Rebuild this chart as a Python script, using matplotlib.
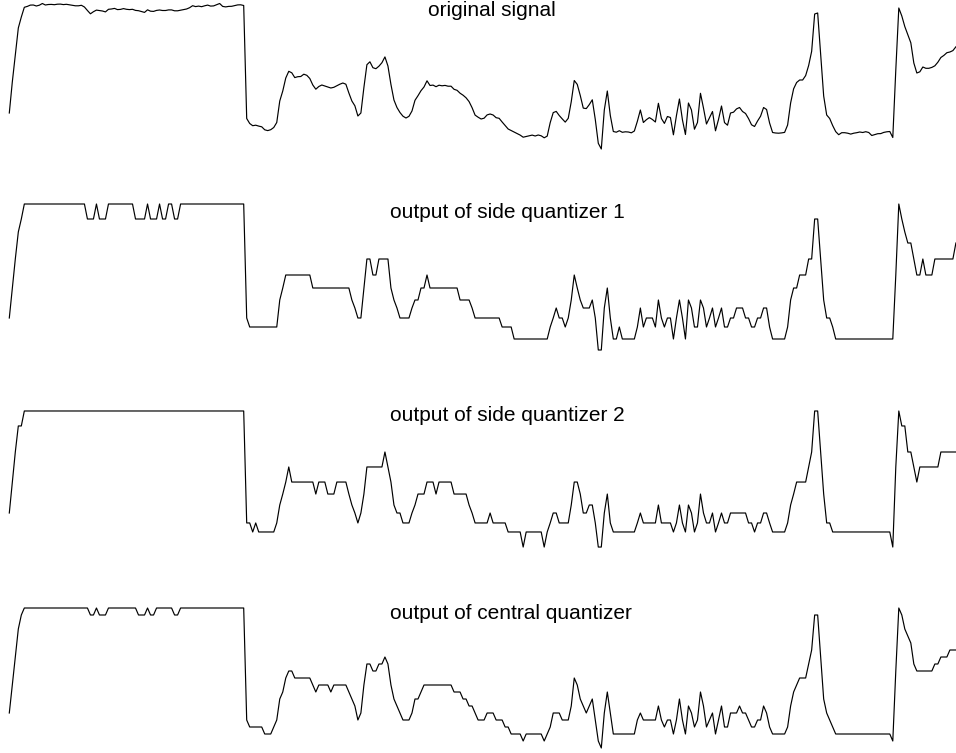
import numpy as np
import matplotlib
matplotlib.use("Agg")
import matplotlib.pyplot as plt

# original signal, one value per sample (depth: bigger value = lower on the page)
original = [
    113, 82, 55, 28, 17, 7.3, 6.4, 5.1, 5, 6,
    5.2, 3.5, 5, 4.5, 4.4, 4.7, 4.2, 4.1, 4.6, 4.3,
    4.8, 5.4, 5.8, 5.8, 5.3, 7, 10.5, 13.8, 11.7, 10.1,
    10.6, 11, 11.9, 9.3, 9, 8.4, 9.6, 9.4, 8.6, 9.3,
    9.6, 9.3, 10.4, 10.7, 11.6, 12.4, 9.8, 11.2, 11.4, 10.4,
    10, 10.5, 10.5, 9.9, 9.9, 10.8, 10.8, 10.2, 9.6, 9,
    7.7, 5.7, 6.6, 6.1, 6.7, 5.8, 5.1, 6.1, 5.9, 4.7,
    3.5, 6.4, 6.9, 6.4, 6.3, 5.6, 4.9, 4.8, 5.5, 118.5,
    123.5, 125.7, 125.2, 126.1, 126.8, 129.8, 130.6, 129.7, 127.5, 122.5,
    101, 91, 78, 71.3, 72.8, 77.6, 76.7, 76.5, 74.2, 75.3,
    78.5, 85, 89.2, 86.5, 85, 86, 87.1, 88, 87.3, 85.8,
    84.2, 83, 84.2, 93, 101, 105.8, 116, 113, 87.5, 64.7,
    61.8, 67.7, 68.7, 66.2, 62.7, 56.9, 66, 84.5, 100, 107.5,
    112.5, 116.2, 118, 116.3, 111, 100.3, 95.7, 90.7, 87, 80.8,
    85.5, 85.1, 86.7, 85.2, 85.8, 85.4, 86.2, 86.2, 89.3, 90.3,
    93.2, 95.2, 97.8, 101.6, 107.7, 115.1, 117.2, 119, 118.2, 114.9,
    114, 115, 117.7, 118.3, 122, 125.5, 129, 130.5, 132, 133.5,
    135.1, 137.2, 136.5, 135.7, 135.1, 136, 135, 135.8, 137.8, 136.1,
    122.6, 112.6, 111.4, 115.5, 118.9, 122.1, 118.3, 101.7, 80.5, 84.4,
    95.5, 108.1, 108.6, 104.6, 99.8, 119.5, 143.3, 149, 110, 91,
    115.5, 131.5, 132.2, 130.7, 132.3, 131.8, 132, 132.8, 131, 121.3,
    110, 122.5, 119.7, 117.6, 119.5, 122, 103.3, 118.5, 123.4, 116.5,
    117.5, 134.8, 115.7, 99, 119.9, 134.5, 103, 110, 129.2, 122.5,
    93.3, 108, 124, 117.8, 111.5, 130.8, 119.5, 106, 122.6, 125.2,
    113, 112.2, 108.9, 107.5, 111.5, 113.5, 118.6, 124.8, 126.5, 121,
    116.2, 107.5, 109.5, 123, 132.5, 133, 133.2, 132.9, 132.4, 125,
    103, 88.8, 82.5, 80, 80, 75.6, 65.5, 51.3, 14, 13,
    54, 96, 115, 118.5, 125.6, 131.6, 134.7, 132.7, 132.7, 133.2,
    134.1, 133.2, 132.7, 132, 132.5, 131.7, 132.5, 135.5, 134.6, 133.7,
    133.6, 132.4, 131.8, 131.5, 137.5, 70, 8, 16, 26.6, 34.8,
    42.8, 63, 73, 71.8, 67, 68.3, 68.3, 67.4, 65.8, 62.2,
    57.5, 55.4, 52.7, 52, 50.6, 46.8,
]

# side quantizer 1: reconstruction levels and cell edges
side1_levels = [7, 22, 35, 46, 62, 78, 91, 103, 111, 121, 130, 142, 153]
side1_edges = [10.3, 22, 33, 48, 67.2, 81, 93, 104, 111.7, 121, 130.8, 140]

# side quantizer 2
side2_levels = [5.9, 22, 50, 66.1, 82.3, 95.2, 107, 115.6, 126.3, 136, 152.2]
side2_edges = [15, 34, 60, 72.5, 86.5, 98, 105, 114, 125.5, 137]

# central quantizer (uniform)
central_levels = [7, 14, 21, 28, 35, 42, 49, 56, 63, 70, 77, 84, 91, 98,
                  105, 112, 119, 126, 133, 140, 147, 154]

titles = ["original signal", "output of side quantizer 1",
          "output of side quantizer 2", "output of central quantizer"]


def quantize(x, levels, edges):
    return np.asarray(levels)[np.searchsorted(edges, x)]


sig = np.array(original, dtype=float)
central_edges = (np.array(central_levels[:-1]) + np.array(central_levels[1:])) / 2
series = [
    sig,
    quantize(sig, side1_levels, side1_edges),
    quantize(sig, side2_levels, side2_edges),
    quantize(sig, central_levels, central_edges),
]

W, H = 956, 753
fig = plt.figure(figsize=(W / 100, H / 100), dpi=100)

# per panel: band top/bottom in pixels, offset and scale of the signal in that band,
# title left edge and baseline in pixels
panels = [
    (0, 160, 0.0, 1.0, 428, 16),
    (190, 360, 197.0, 1.0, 390.5, 218),
    (395, 560, 405.5, 0.93, 390.5, 421),
    (595, 753, 601.0, 1.0, 390.5, 619),
]

x_left, x_right = 9.3, 955.9
n = np.arange(len(sig))

for (top, bot, off, scale, tx, ty), y, title in zip(panels, series, titles):
    ax = fig.add_axes([x_left / W, 1 - bot / H, (x_right - x_left) / W, (bot - top) / H])
    ax.plot(n, y, color="black", lw=0.85, clip_on=False)
    ax.set_xlim(0, len(sig) - 1)
    ax.set_ylim((bot - off) / scale, (top - off) / scale)
    ax.axis("off")
    fig.text(tx / W, 1 - ty / H, title, ha="left", va="baseline",
             fontsize=15, family=["Liberation Sans", "DejaVu Sans"])

fig.savefig("out.png", dpi=100)
